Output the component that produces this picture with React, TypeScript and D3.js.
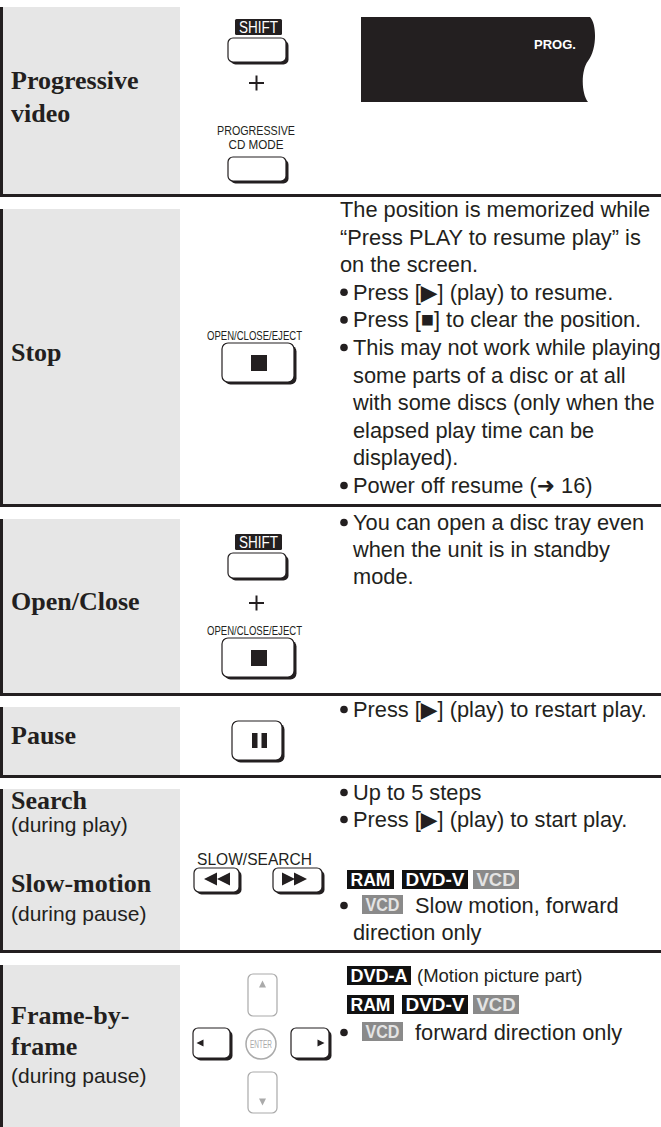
import React from 'react';
import * as d3 from 'd3';

// ---- content ----
const rowTitles = [
  ['Progressive', 'video'],
  ['Stop'],
  ['Open/Close'],
  ['Pause'],
  ['Search', 'Slow-motion'],
  ['Frame-by-', 'frame'],
];
const rowSubtitles = [[], [], [], [], ['(during play)', '(during pause)'], ['(during pause)']];

const progressiveKeyLabel = ['PROGRESSIVE', 'CD MODE'];
const openKeyLabel = 'OPEN/CLOSE/EJECT';
const shiftLabel = 'SHIFT';
const slowKeyLabel = 'SLOW/SEARCH';
const displayText = 'PROG.';

type Line = { t: string; b?: boolean; i?: boolean };

const stopLines: Line[] = [
  { t: 'The position is memorized while' },
  { t: '“Press PLAY to resume play” is' },
  { t: 'on the screen.' },
  { t: 'Press [▶] (play) to resume.', b: true },
  { t: 'Press [■] to clear the position.', b: true },
  { t: 'This may not work while playing', b: true },
  { t: 'some parts of a disc or at all', i: true },
  { t: 'with some discs (only when the', i: true },
  { t: 'elapsed play time can be', i: true },
  { t: 'displayed).', i: true },
  { t: 'Power off resume (➜ 16)', b: true },
];
const openLines: Line[] = [
  { t: 'You can open a disc tray even', b: true },
  { t: 'when the unit is in standby', i: true },
  { t: 'mode.', i: true },
];
const pauseLines: Line[] = [{ t: 'Press [▶] (play) to restart play.', b: true }];
const searchLines: Line[] = [
  { t: 'Up to 5 steps', b: true },
  { t: 'Press [▶] (play) to start play.', b: true },
];
const discBadges = ['RAM', 'DVD-V', 'VCD'];
const slowNote = ['Slow motion, forward', 'direction only'];
const frameHeader = ['DVD-A', '(Motion picture part)'];
const frameNote = 'forward direction only';

// ---- style ----
const SANS = "'Liberation Sans', Arial, 'DejaVu Sans', sans-serif";
const NARROW = "'Liberation Sans Narrow', 'Liberation Sans', Arial, sans-serif";
const SERIF = "'Liberation Serif', 'Times New Roman', serif";
const INK = '#231f20';
const PANEL = '#e6e6e6';
const W = 661;
const H = 1127;
const FS = 21.8;
const rowSpans = [[7, 194], [209, 504], [519, 693], [707, 775], [789, 950], [965, 1127]];
const titleBaselines = [[89, 122], [361], [610], [744], [809, 892], [1024, 1055]];
const subtitleBaselines = [[], [], [], [], [832, 921], [1083]];

const TX = 340;
const BX = 353;

function Key({ x, y, w, h, r = 5, color = INK, shadow = true }: any) {
  return (
    <g>
      {shadow && <rect x={x + 2.5} y={y + 2.5} width={w} height={h} rx={r} fill={color} />}
      <rect x={x} y={y} width={w} height={h} rx={r} fill="#fff" stroke={color} strokeWidth={1.2} />
    </g>
  );
}

function Lines({ lines, y }: { lines: Line[]; y: d3.ScaleLinear<number, number> }) {
  return (
    <g fontFamily={SANS} fontSize={FS} fill={INK}>
      {lines.map((l, k) => (
        <g key={k}>
          {l.b && <circle cx={344} cy={y(k) - 7.5} r={3.8} fill={INK} />}
          <text x={l.b || l.i ? BX : TX} y={y(k)}>{l.t}</text>
        </g>
      ))}
    </g>
  );
}

function Badge({ x, y, w, label }: { x: number; y: number; w: number; label: string }) {
  const gray = label === 'VCD';
  return (
    <g>
      <rect x={x} y={y} width={w} height={19} fill={gray ? '#8a8a8a' : '#111'} />
      <text x={x + w / 2} y={y + 16} textAnchor="middle" fontFamily={SANS} fontWeight="bold" fontSize={18}
        fill={gray ? '#e4e4e4' : '#fff'} textLength={w - 7} lengthAdjust="spacingAndGlyphs">{label}</text>
    </g>
  );
}

function ShiftTag({ y }: { y: number }) {
  return (
    <g>
      <rect x={235} y={y} width={47} height={16} rx={1.5} fill={INK} />
      <text x={258.5} y={y + 14} textAnchor="middle" fontFamily={NARROW} fontSize={16} fill="#fff"
        textLength={39} lengthAdjust="spacingAndGlyphs">{shiftLabel}</text>
    </g>
  );
}

function Plus({ y }: { y: number }) {
  return (
    <g stroke={INK} strokeWidth={2}>
      <line x1={249} x2={264} y1={y} y2={y} />
      <line x1={256.5} x2={256.5} y1={y - 7.5} y2={y + 7.5} />
    </g>
  );
}

function OpenKey({ y }: { y: number }) {
  return (
    <g>
      <text x={254.5} y={y - 3} textAnchor="middle" fontFamily={NARROW} fontSize={12.5} fill={INK}
        textLength={95} lengthAdjust="spacingAndGlyphs">{openKeyLabel}</text>
      <Key x={222} y={y} w={72} h={39} r={6} />
      <rect x={251} y={y + 12} width={16} height={16} fill={INK} />
    </g>
  );
}

const badgeW: Record<string, number> = { RAM: 47, 'DVD-V': 66, VCD: 46, 'DVD-A': 64 };
const badgeX = [347, 402, 473];

export default function App() {
  const stopY = d3.scaleLinear().domain([0, stopLines.length - 1]).range([217, 493]);
  const openY = d3.scaleLinear().domain([0, openLines.length - 1]).range([530, 584]);
  const pauseY = d3.scaleLinear().domain([0, 1]).range([717, 744]);
  const searchY = d3.scaleLinear().domain([0, searchLines.length - 1]).range([800, 827]);
  const slowY = d3.scaleLinear().domain([0, 1]).range([913, 940]);

  const tri = (cx: number, cy: number, s: number, dir: 'l' | 'r' | 'u' | 'd') => {
    const p = d3.path();
    if (dir === 'r') { p.moveTo(cx - s / 2, cy - s / 2); p.lineTo(cx + s / 2, cy); p.lineTo(cx - s / 2, cy + s / 2); }
    if (dir === 'l') { p.moveTo(cx + s / 2, cy - s / 2); p.lineTo(cx - s / 2, cy); p.lineTo(cx + s / 2, cy + s / 2); }
    if (dir === 'u') { p.moveTo(cx - s / 2, cy + s / 2); p.lineTo(cx, cy - s / 2); p.lineTo(cx + s / 2, cy + s / 2); }
    if (dir === 'd') { p.moveTo(cx - s / 2, cy - s / 2); p.lineTo(cx, cy + s / 2); p.lineTo(cx + s / 2, cy - s / 2); }
    p.closePath();
    return p.toString();
  };

  const display = d3.path();
  display.moveTo(361, 17);
  display.lineTo(590, 17);
  display.bezierCurveTo(597, 24, 597, 50, 588, 61);
  display.bezierCurveTo(581, 70, 581, 93, 588, 102);
  display.lineTo(361, 102);
  display.closePath();

  return (
    <svg width={W} height={H} style={{ position: 'absolute', left: 0, top: 0, background: '#fff' }}>
      {/* row frames */}
      {rowSpans.map(([t, b], k) => (
        <g key={k}>
          <rect x={3} y={t} width={177} height={b - t} fill={PANEL} />
          <rect x={0} y={t} width={3} height={b - t + (k < rowSpans.length - 1 ? 3 : 0)} fill={INK} />
          {k < rowSpans.length - 1 && <rect x={0} y={b} width={W} height={3} fill={INK} />}
        </g>
      ))}

      {/* row titles */}
      {rowTitles.map((lines, k) => (
        <g key={k}>
          {lines.map((s, j) => (
            <text key={j} x={11} y={titleBaselines[k][j]} fontFamily={SERIF} fontWeight="bold" fontSize={26} fill={INK}>{s}</text>
          ))}
          {rowSubtitles[k].map((s, j) => (
            <text key={'s' + j} x={11} y={subtitleBaselines[k][j]} fontFamily={SANS} fontSize={21} fill={INK}>{s}</text>
          ))}
        </g>
      ))}

      {/* row 1: progressive */}
      <ShiftTag y={19} />
      <Key x={228} y={38} w={58} h={24} />
      <Plus y={83} />
      {progressiveKeyLabel.map((s, j) => (
        <text key={j} x={256} y={134.5 + j * 14.5} textAnchor="middle" fontFamily={NARROW} fontSize={13.5} fill={INK}
          textLength={j === 0 ? 78 : 55} lengthAdjust="spacingAndGlyphs">{s}</text>
      ))}
      <Key x={228} y={157} w={58} h={24} />
      <path d={display.toString()} fill={INK} />
      <text x={534} y={49} fontFamily={SANS} fontWeight="bold" fontSize={13} fill="#fff">{displayText}</text>

      {/* row 2: stop */}
      <OpenKey y={343} />
      <Lines lines={stopLines} y={stopY} />

      {/* row 3: open/close */}
      <ShiftTag y={534} />
      <Key x={228} y={553} w={58} h={25} />
      <Plus y={603} />
      <OpenKey y={638} />
      <Lines lines={openLines} y={openY} />

      {/* row 4: pause */}
      <Key x={232} y={721} w={50} h={39} r={6} />
      <rect x={252} y={733} width={5.5} height={15} fill={INK} />
      <rect x={261.5} y={733} width={5.5} height={15} fill={INK} />
      <Lines lines={pauseLines} y={pauseY} />

      {/* row 5: search / slow-motion */}
      <text x={254.5} y={865} textAnchor="middle" fontFamily={NARROW} fontSize={17} fill={INK}
        textLength={115} lengthAdjust="spacingAndGlyphs">{slowKeyLabel}</text>
      <Key x={194} y={868} w={45} h={24} />
      <Key x={273} y={868} w={49} h={24} />
      <path d={tri(210.5, 879, 13, 'l')} fill={INK} />
      <path d={tri(223.5, 879, 13, 'l')} fill={INK} />
      <path d={tri(288.5, 879, 13, 'r')} fill={INK} />
      <path d={tri(300.5, 879, 13, 'r')} fill={INK} />
      <Lines lines={searchLines} y={searchY} />
      {discBadges.map((s, j) => <Badge key={j} x={badgeX[j]} y={870} w={badgeW[s]} label={s} />)}
      <circle cx={344} cy={slowY(0) - 7.5} r={3.8} fill={INK} />
      <Badge x={362} y={slowY(0) - 18} w={41} label="VCD" />
      <text x={415} y={slowY(0)} fontFamily={SANS} fontSize={FS} fill={INK}>{slowNote[0]}</text>
      <text x={BX} y={slowY(1)} fontFamily={SANS} fontSize={FS} fill={INK}>{slowNote[1]}</text>

      {/* row 6: frame-by-frame */}
      <Key x={248} y={974} w={29} h={42} color="#aaa" shadow={false} />
      <Key x={248} y={1072} w={29} h={41} color="#aaa" shadow={false} />
      <Key x={193} y={1028} w={37} h={30} />
      <Key x={291} y={1028} w={38} h={30} />
      <circle cx={261} cy={1044} r={15} fill="#fff" stroke="#aaa" strokeWidth={1.5} />
      <text x={261} y={1047.5} textAnchor="middle" fontFamily={NARROW} fontSize={10} fill="#aaa"
        textLength={22} lengthAdjust="spacingAndGlyphs">ENTER</text>
      <path d={tri(262.5, 984, 7, 'u')} fill="#aaa" />
      <path d={tri(262.5, 1102, 7, 'd')} fill="#aaa" />
      <path d={tri(200, 1043, 7, 'l')} fill={INK} />
      <path d={tri(321, 1043, 7, 'r')} fill={INK} />

      <Badge x={347} y={966} w={badgeW[frameHeader[0]]} label={frameHeader[0]} />
      <text x={417} y={982} fontFamily={SANS} fontSize={18.5} fill={INK}>{frameHeader[1]}</text>
      {discBadges.map((s, j) => <Badge key={j} x={badgeX[j]} y={995} w={badgeW[s]} label={s} />)}
      <circle cx={344} cy={1040 - 7.5} r={3.8} fill={INK} />
      <Badge x={362} y={1022} w={41} label="VCD" />
      <text x={415} y={1040} fontFamily={SANS} fontSize={FS} fill={INK}>{frameNote}</text>
    </svg>
  );
}
